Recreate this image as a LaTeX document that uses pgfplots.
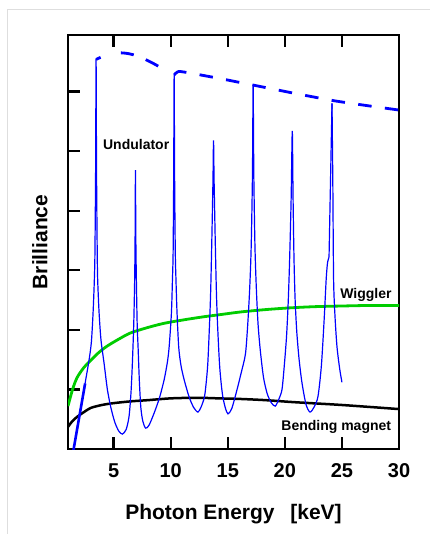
\documentclass[border=0pt]{standalone}
\usepackage{fontspec}
\setmainfont{Liberation Sans}
\usepackage{pgfplots}
\pgfplotsset{compat=1.18}
\definecolor{undblue}{RGB}{0,0,255}
\definecolor{wiggreen}{RGB}{0,204,0}
\definecolor{framegray}{RGB}{222,222,222}

\begin{document}
\begin{tikzpicture}
\begin{axis}[
    scale only axis,
    width=331pt, height=414pt,
    xmin=1, xmax=30, ymin=0, ymax=6.95,
    xtick={5,10,...,30},
    ytick={1,...,6},
    yticklabels={},
    ytick pos=left,
    tick align=inside,
    major tick length=12pt,
    tick style={line width=2.4pt, black},
    axis line style={line width=2.6pt},
    /pgf/number format/assume math mode=true,
    xticklabel style={font=\bfseries\fontsize{20}{20}\selectfont, yshift=-11pt},
    xlabel={Photon Energy\hspace{0.75em}[keV]},
    ylabel={Brilliance},
    xlabel style={font=\bfseries\fontsize{21}{21}\selectfont,
        at={(axis description cs:0.5,-0.157)}, anchor=center},
    ylabel style={font=\bfseries\fontsize{21}{21}\selectfont,
        at={(axis description cs:-0.085,0.5)}, anchor=center},
    clip=true,
]
% bending magnet
\addplot[black, line width=2.5pt, smooth] coordinates {
    (1,0.37) (1.35,0.46) (1.8,0.54) (2.4,0.62) (3.0,0.69) (4.0,0.74)
    (5.0,0.77) (6.5,0.80) (8.0,0.82) (10,0.85) (12.3,0.86) (14.2,0.85)
    (16.1,0.84) (18.3,0.82) (20.5,0.79) (22.7,0.765) (24.9,0.74)
    (27.5,0.705) (30,0.67)
};
% wiggler
\addplot[wiggreen, line width=2.8pt, smooth] coordinates {
    (1,0.72) (1.4,1.0) (1.8,1.2) (2.4,1.37) (3.0,1.49) (3.7,1.62)
    (4.45,1.73) (5.5,1.85) (6.5,1.95) (8,2.04) (9.42,2.11) (11.2,2.17)
    (12.9,2.22) (14.5,2.26) (16.1,2.30) (18.3,2.34) (20.5,2.37)
    (22.7,2.39) (24.9,2.40) (27.5,2.41) (30,2.41)
};
% undulator, thick start
\addplot[undblue, line width=2.6pt] coordinates {
    (1.45,-0.05) (2.5,1.1)
};
% undulator harmonics
\addplot[undblue, line width=1.2pt, smooth, tension=0.45] coordinates {
    (1.45,-0.05) (2.0,0.55) (2.55,1.16) (2.85,1.5) (3.05,1.8) (3.2,2.3)
    (3.31,2.85) (3.36,3.3) (3.42,4.7) (3.46,6.55)
    (3.5,4.7) (3.56,3.3) (3.6,2.84) (3.72,2.3) (3.89,1.83) (4.16,1.44)
    (4.45,1.0) (4.75,0.7) (5.1,0.45) (5.45,0.3) (5.77,0.25)
    (6.1,0.33) (6.35,0.55) (6.52,0.95) (6.64,1.44) (6.76,2.1) (6.84,2.84)
    (6.88,3.6) (6.91,4.68)
    (6.94,3.6) (6.99,2.84) (7.06,2.1) (7.14,1.71) (7.25,1.15) (7.38,0.7)
    (7.55,0.47) (7.8,0.35)
    (8.1,0.4) (8.54,0.6) (9.0,0.85) (9.42,1.16) (9.7,1.45) (9.86,1.71)
    (10.06,2.28) (10.15,2.84) (10.21,3.3) (10.26,4.6) (10.3,6.28)
    (10.34,4.6) (10.4,3.3) (10.46,2.84) (10.55,2.3) (10.7,1.71) (10.9,1.4)
    (11.18,1.16) (11.6,0.88) (12.0,0.7) (12.38,0.62)
    (12.65,0.7) (12.95,0.87) (13.1,1.1) (13.25,1.44) (13.4,2.1) (13.5,2.65)
    (13.6,3.5) (13.7,4.5) (13.75,5.18)
    (13.8,4.5) (13.9,3.5) (14.0,2.65) (14.1,2.1) (14.27,1.44) (14.42,1.1)
    (14.57,0.87) (14.8,0.68) (15.02,0.59)
    (15.35,0.68) (15.8,0.99) (16.2,1.3) (16.55,1.6) (16.75,2.1) (16.92,2.7)
    (17.05,3.4) (17.16,4.6) (17.22,6.1)
    (17.28,4.6) (17.38,3.4) (17.5,2.7) (17.65,2.1) (17.85,1.65) (18.13,1.2)
    (18.45,0.93) (18.8,0.78) (19.16,0.72)
    (19.5,0.85) (19.75,1.0) (19.95,1.4) (20.15,1.9) (20.3,2.5) (20.42,3.2)
    (20.55,4.2) (20.65,5.34)
    (20.72,4.2) (20.8,3.2) (20.9,2.5) (21.05,1.95) (21.25,1.5) (21.5,1.11)
    (21.85,0.75) (22.2,0.62)
    (22.55,0.7) (22.9,0.88) (23.2,1.4) (23.45,2.2) (23.62,2.85)
    (23.74,3.13) (23.87,3.22)
};
\addplot[undblue, line width=1.2pt] coordinates {
    (23.87,3.22) (24.13,5.8)
};
\addplot[undblue, line width=1.2pt, smooth, tension=0.45] coordinates {
    (24.13,5.8) (24.2,4.5) (24.27,2.84) (24.4,2.2) (24.57,1.71) (24.8,1.35)
    (25.0,1.12)
};
% envelope
\addplot[undblue, line width=2.8pt, smooth,
    dash pattern=on 5pt off 21pt on 13pt off 13pt on 14pt off 13pt] coordinates {
    (3.46,6.54) (4.3,6.61) (5.2,6.65) (6.2,6.64) (7.2,6.59) (8.2,6.50) (9.07,6.41)
};
\addplot[undblue, line width=2.8pt, dash pattern=on 13.5pt off 13.4pt, smooth] coordinates {
    (10.3,6.28) (10.6,6.33) (11.1,6.33) (14,6.23) (17.2,6.11) (20.6,5.98)
    (24.2,5.85) (27,5.77) (30,5.69)
};
\node[font=\bfseries\fontsize{14}{14}\selectfont] at (axis cs:6.97,5.12) {Undulator};
\node[font=\bfseries\fontsize{14}{14}\selectfont] at (axis cs:27.1,2.58) {Wiggler};
\node[font=\bfseries\fontsize{14}{14}\selectfont] at (axis cs:24.5,0.37) {Bending magnet};
\end{axis}
\draw[framegray, line width=1pt] (-60pt,-85pt) -- (-60pt,439pt) -- (362pt,439pt);
\pgfresetboundingbox
\useasboundingbox (-68pt,-85pt) rectangle (362pt,449pt);
\end{tikzpicture}
\end{document}
